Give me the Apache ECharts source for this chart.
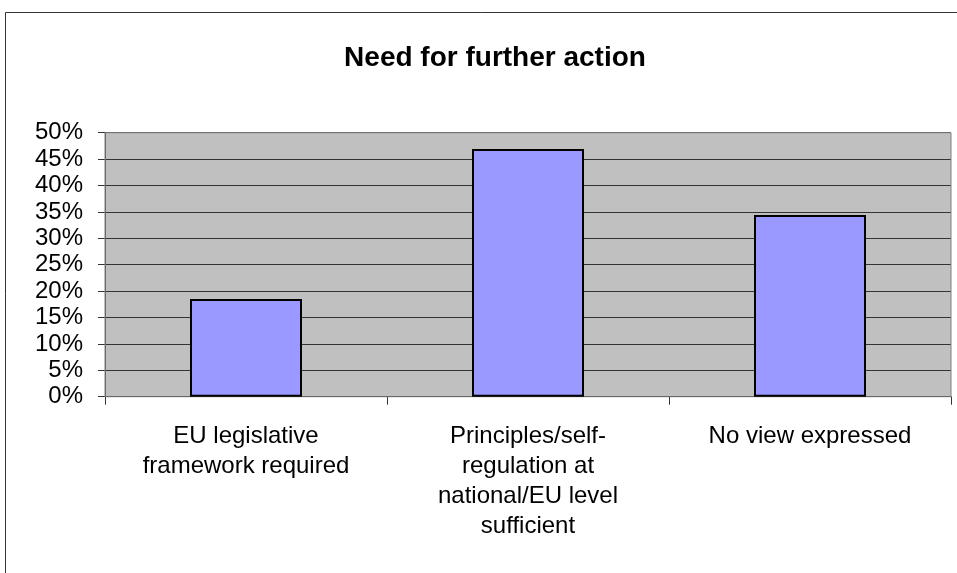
<!DOCTYPE html>
<html>
<head>
<meta charset="utf-8">
<script src="https://cdn.jsdelivr.net/npm/echarts@6/dist/echarts.min.js"></script>
<style>
html,body{margin:0;padding:0;background:#fff;}
#c{width:957px;height:573px;}
</style>
</head>
<body>
<div id="c"></div>
<script>
const categories = [
  "EU legislative\nframework required",
  "Principles/self-\nregulation at\nnational/EU level\nsufficient",
  "No view expressed"
];
const values = [18.5, 46.9, 34.4];
const titleText = "Need for further action";

const chart = echarts.init(document.getElementById('c'));
chart.setOption({
  animation: false,
  backgroundColor: '#ffffff',
  title: {
    text: titleText,
    left: 490, top: 39, textAlign: 'center',
    textStyle: {fontFamily: 'Liberation Sans', fontWeight: 'bold', fontSize: 28, color: '#000'}
  },
  graphic: [{
    type: 'rect', shape: {x: 5.5, y: 12.5, width: 1000, height: 1000},
    style: {fill: 'none', stroke: '#333', lineWidth: 1}, z: 0
  }, {
    type: 'rect', shape: {x: 105, y: 132.7, width: 846, height: 264},
    style: {fill: 'none', stroke: '#808080', lineWidth: 1}, z: 1
  }],
  grid: {left: 105, right: 6, top: 132.7, bottom: 176.3, show: true, backgroundColor: '#C0C0C0', borderWidth: 0},
  xAxis: {
    type: 'category', data: categories,
    axisLine: {lineStyle: {color: '#000', width: 1}},
    axisTick: {show: true, length: 8, lineStyle: {color: '#333'}},
    axisLabel: {interval: 0, margin: 25, lineHeight: 30, fontFamily: 'Liberation Sans', fontSize: 24, color: '#000'}
  },
  yAxis: {
    type: 'value', min: 0, max: 50, interval: 5,
    axisLine: {show: true, lineStyle: {color: '#555'}},
    axisTick: {show: true, length: 7, lineStyle: {color: '#333'}},
    splitLine: {lineStyle: {color: '#333', width: 1}},
    axisLabel: {formatter: '{value}%', margin: 22, fontFamily: 'Liberation Sans', fontSize: 24, color: '#000'}
  },
  series: [{
    type: 'bar', data: values, barWidth: 112,
    itemStyle: {color: '#9999FF', borderColor: '#000', borderWidth: 2}
  }]
});
</script>
</body>
</html>
